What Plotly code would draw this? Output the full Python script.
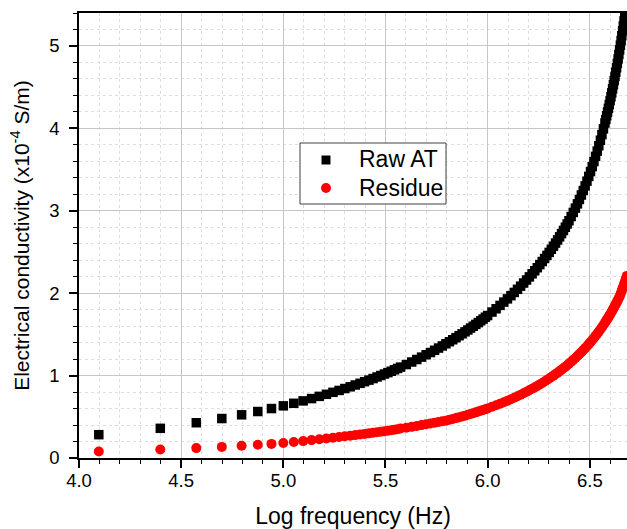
import math
import plotly.graph_objects as go

# Measurement frequencies of the sweep (kHz)
freq_khz = [
    12.5, 25, 37.5, 50, 62.5, 75, 87.5, 100, 112.5, 125,
    137.5, 150, 162.5, 175, 187.5, 200, 212.5, 225, 237.5, 250,
    262.5, 275, 287.5, 300, 312.5, 325, 337.5, 350, 362.5, 375,
    400, 425, 450, 475, 500, 525, 550, 575, 600, 625,
    650, 675, 700, 725, 750, 775, 800, 825, 850, 875,
    900, 925, 950, 975, 1000,
    1050, 1100, 1150, 1200, 1250, 1300, 1350, 1400, 1450, 1500,
    1550, 1600, 1650, 1700, 1750, 1800, 1850, 1900, 1950, 2000,
    2050, 2100, 2150, 2200, 2250, 2300, 2350, 2400, 2450, 2500,
    2562.5, 2625, 2687.5, 2750, 2812.5, 2875, 2937.5, 3000, 3062.5, 3125,
    3187.5, 3250, 3312.5, 3375, 3437.5, 3500, 3562.5, 3625, 3687.5, 3750,
    3787.5, 3825, 3862.5, 3900, 3937.5, 3975, 4012.5, 4050, 4087.5, 4125,
    4162.5, 4200, 4237.5, 4275, 4312.5, 4350, 4387.5, 4425, 4462.5, 4500,
    4537.5, 4575, 4612.5, 4650, 4687.5, 4725, 4762.5, 4800,
]

# Electrical conductivity, x10^-4 S/m
raw_at = [
    0.283, 0.360, 0.428, 0.479, 0.524, 0.564, 0.600, 0.633, 0.664, 0.693,
    0.721, 0.748, 0.773, 0.797, 0.820, 0.843, 0.864, 0.886, 0.906, 0.926,
    0.945, 0.964, 0.983, 1.001, 1.019, 1.036, 1.053, 1.070, 1.087, 1.103,
    1.134, 1.165, 1.195, 1.224, 1.253, 1.280, 1.307, 1.334, 1.360, 1.386,
    1.411, 1.435, 1.460, 1.484, 1.507, 1.531, 1.554, 1.577, 1.599, 1.621,
    1.643, 1.665, 1.686, 1.708, 1.729,
    1.771, 1.811, 1.852, 1.892, 1.931, 1.970, 2.009, 2.047, 2.085, 2.123,
    2.160, 2.198, 2.235, 2.272, 2.309, 2.347, 2.384, 2.421, 2.458, 2.495,
    2.533, 2.570, 2.608, 2.646, 2.684, 2.723, 2.761, 2.800, 2.840, 2.879,
    2.930, 2.980, 3.032, 3.084, 3.137, 3.191, 3.246, 3.302, 3.359, 3.417,
    3.476, 3.536, 3.597, 3.660, 3.724, 3.789, 3.856, 3.924, 3.994, 4.065,
    4.108, 4.153, 4.198, 4.243, 4.289, 4.336, 4.383, 4.431, 4.480, 4.530,
    4.580, 4.631, 4.682, 4.735, 4.788, 4.842, 4.897, 4.952, 5.009, 5.066,
    5.124, 5.183, 5.243, 5.303, 5.365, 5.428, 5.491, 5.555,
]

residue = [
    0.079, 0.103, 0.120, 0.135, 0.148, 0.160, 0.171, 0.181, 0.194, 0.205,
    0.217, 0.227, 0.237, 0.246, 0.255, 0.264, 0.271, 0.278, 0.285, 0.292,
    0.299, 0.306, 0.313, 0.319, 0.326, 0.332, 0.338, 0.344, 0.350, 0.357,
    0.367, 0.378, 0.389, 0.399, 0.409, 0.418, 0.427, 0.436, 0.445, 0.453,
    0.464, 0.474, 0.484, 0.494, 0.504, 0.514, 0.524, 0.534, 0.544, 0.554,
    0.564, 0.573, 0.583, 0.592, 0.602,
    0.621, 0.640, 0.658, 0.677, 0.695, 0.713, 0.732, 0.750, 0.768, 0.786,
    0.804, 0.822, 0.840, 0.857, 0.875, 0.893, 0.911, 0.929, 0.946, 0.964,
    0.982, 1.000, 1.018, 1.036, 1.054, 1.072, 1.090, 1.108, 1.126, 1.145,
    1.168, 1.191, 1.214, 1.237, 1.261, 1.285, 1.309, 1.333, 1.357, 1.382,
    1.406, 1.431, 1.457, 1.482, 1.508, 1.534, 1.560, 1.587, 1.614, 1.641,
    1.658, 1.674, 1.691, 1.708, 1.725, 1.742, 1.760, 1.777, 1.795, 1.813,
    1.831, 1.849, 1.867, 1.885, 1.904, 1.923, 1.941, 1.960, 1.985, 2.009,
    2.034, 2.058, 2.083, 2.108, 2.133, 2.159, 2.185, 2.210,
]

series_names = ["Raw AT", "Residue"]

log_freq = [math.log10(f * 1000.0) for f in freq_khz]

FONT = "Liberation Sans, Arial, sans-serif"

fig = go.Figure()
fig.add_trace(go.Scatter(
    x=log_freq, y=raw_at, mode="markers", name=series_names[0],
    marker=dict(symbol="square", size=9.5, color="black", line=dict(width=0)),
    showlegend=False,
))
fig.add_trace(go.Scatter(
    x=log_freq, y=residue, mode="markers", name=series_names[1],
    marker=dict(symbol="circle", size=10, color="#ff0000", line=dict(width=0)),
    showlegend=False,
))

common = dict(
    showline=True, linecolor="black", linewidth=1.5,
    ticks="outside", ticklen=8, tickwidth=1.5, tickcolor="black",
    showgrid=True, gridcolor="#c6c6c6", gridwidth=1, zeroline=False,
    tickfont=dict(family=FONT, size=18.5, color="black"),
)

fig.update_xaxes(
    **common,
    range=[4.0, 6.682], tick0=4.0, dtick=0.5, tickformat=".1f", mirror=True,
    ticklabelstandoff=-3,
    minor=dict(dtick=0.1, ticks="outside", ticklen=4.5, tickwidth=1.2,
               tickcolor="black", showgrid=True, gridcolor="#dedede",
               griddash="dot", gridwidth=1),
    title=dict(text="Log frequency (Hz)", standoff=23,
               font=dict(family=FONT, size=23, color="black")),
)
fig.update_yaxes(
    **common,
    range=[0, 5.4], tick0=0, dtick=1, tickformat="d",
    ticklabelstandoff=6,
    minor=dict(dtick=0.2, ticks="outside", ticklen=4.5, tickwidth=1.2,
               tickcolor="black", showgrid=True, gridcolor="#dedede",
               griddash="dot", gridwidth=1),
    title=dict(text="Electrical conductivity (x10<sup>-4</sup> S/m)", standoff=14,
               font=dict(family=FONT, size=21, color="black")),
)

# Legend panel: framed box with one symbol + label per series
PLOT_L, PLOT_W, PLOT_B, PLOT_H = 79, 548, 458, 445


def px_x(p):
    return (p - PLOT_L) / PLOT_W


def px_y(p):
    return (PLOT_B - p) / PLOT_H


shapes = [
    dict(type="rect", xref="paper", yref="paper",
         x0=px_x(300), x1=px_x(446), y0=px_y(204), y1=px_y(143),
         line=dict(color="#404040", width=1), fillcolor="white", layer="above"),
    dict(type="rect", xref="paper", yref="paper",
         xsizemode="pixel", ysizemode="pixel",
         xanchor=px_x(326), yanchor=px_y(160),
         x0=-4.5, x1=4.5, y0=-4.5, y1=4.5,
         line=dict(width=0), fillcolor="black", layer="above"),
    dict(type="circle", xref="paper", yref="paper",
         xsizemode="pixel", ysizemode="pixel",
         xanchor=px_x(326), yanchor=px_y(188),
         x0=-5, x1=5, y0=-5, y1=5,
         line=dict(width=0), fillcolor="#ff0000", layer="above"),
]
annotations = [
    dict(text=series_names[0], xref="paper", yref="paper",
         x=px_x(357), y=px_y(159), xanchor="left", yanchor="middle",
         showarrow=False, font=dict(family=FONT, size=23, color="black")),
    dict(text=series_names[1], xref="paper", yref="paper",
         x=px_x(357), y=px_y(188), xanchor="left", yanchor="middle",
         showarrow=False, font=dict(family=FONT, size=23, color="black")),
]

fig.update_layout(
    width=627, height=529,
    margin=dict(l=79, r=0, t=13, b=71),
    paper_bgcolor="white", plot_bgcolor="white",
    font=dict(family=FONT, color="black"),
    showlegend=False,
    shapes=shapes,
    annotations=annotations,
)

fig.write_html("out.html")
